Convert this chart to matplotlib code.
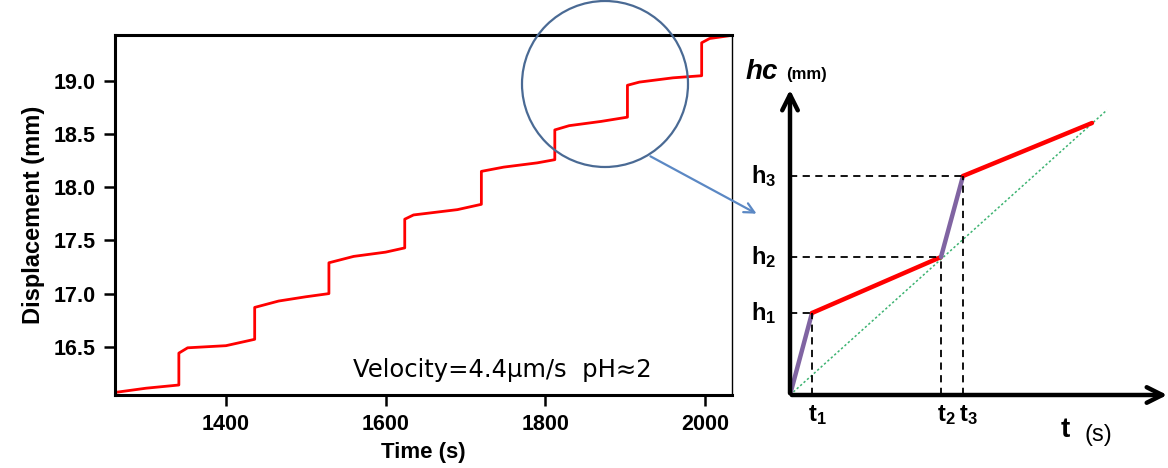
import matplotlib
matplotlib.use("Agg")
import matplotlib.pyplot as plt
from matplotlib.patches import Circle

plt.rcParams["font.family"] = ["Liberation Sans", "DejaVu Sans"]
plt.rcParams["mathtext.fontset"] = "custom"
plt.rcParams["mathtext.rm"] = "Liberation Sans"
plt.rcParams["mathtext.bf"] = "Liberation Sans:bold"
plt.rcParams["mathtext.it"] = "Liberation Sans:italic"

# displacement trace (staircase)
time_s = [1261, 1300, 1341, 1341, 1352, 1400, 1436, 1436, 1466, 1500, 1529, 1529,
          1560, 1600, 1624, 1624, 1635, 1690, 1720, 1720, 1748, 1790, 1812, 1812,
          1830, 1870, 1903, 1903, 1918, 1960, 1996, 1996, 2006, 2034]
disp_mm = [16.07, 16.11, 16.14, 16.44, 16.49, 16.51, 16.57, 16.87, 16.93, 16.97, 17.00, 17.29,
           17.35, 17.39, 17.43, 17.70, 17.74, 17.79, 17.84, 18.15, 18.19, 18.23, 18.26, 18.54,
           18.58, 18.62, 18.66, 18.96, 18.99, 19.03, 19.05, 19.36, 19.40, 19.43]
x_ticks = [1400, 1600, 1800, 2000]
y_ticks = [16.5, 17.0, 17.5, 18.0, 18.5, 19.0]

# schematic key points (arbitrary units)
sketch_t = [0, 22, 151, 173, 302]
sketch_h = [0, 82, 138, 219, 272]
avg_t = [0, 317]
avg_h = [0, 285]
t_labels = ["1", "2", "3"]

W, H = 1168, 468
fig = plt.figure(figsize=(W / 100, H / 100), dpi=100)

# ---- left: measured trace
ax = fig.add_axes([115 / W, (H - 395) / H, (732 - 115) / W, (395 - 35) / H])
ax.plot(time_s, disp_mm, color="red", linewidth=2.0)
ax.set_xlim(1261, 2034)
ax.set_ylim(16.046, 19.433)
ax.set_xticks(x_ticks)
ax.set_yticks(y_ticks)
ax.set_yticklabels([f"{v:.1f}" for v in y_ticks])
ax.tick_params(direction="out", length=8, width=1.8, labelsize=15.5, pad=6,
               top=False, right=False)
for lab in ax.get_xticklabels() + ax.get_yticklabels():
    lab.set_fontweight("bold")
for side in ["left", "bottom", "top"]:
    ax.spines[side].set_linewidth(2.2)
ax.spines["right"].set_linewidth(1.0)
ax.set_xlabel("Time (s)", fontsize=16, fontweight="bold", labelpad=5)
ax.set_ylabel("Displacement (mm)", fontsize=17, fontweight="bold", labelpad=6)
ax.text(0.385, 0.07, "Velocity=4.4μm/s  pH≈2", fontsize=17.5, family="DejaVu Sans",
        transform=ax.transAxes, va="center", ha="left")

# ---- overlay: zoom circle + pointer arrow (pixel coords)
ov = fig.add_axes([0, 0, 1, 1])
ov.set_xlim(0, W)
ov.set_ylim(H, 0)
ov.axis("off")
ov.add_patch(Circle((605, 84), 83, fill=False, edgecolor="#4A6A94", linewidth=1.6,
                    clip_on=False))
ov.annotate("", xy=(759, 215), xytext=(648, 155),
            arrowprops=dict(arrowstyle="->", color="#5B88C4", lw=1.6,
                            mutation_scale=18))

# ---- right: schematic
sc = fig.add_axes([790 / W, (H - 395) / H, (W - 790) / W, 395 / H])
sc.set_xlim(0, W - 790)
sc.set_ylim(0, 395)
sc.axis("off")

sc.plot(avg_t, avg_h, color="#3CB371", linewidth=1.1, linestyle=(0, (1.5, 1.5)))
for i in range(len(sketch_t) - 1):
    c = "#8064A2" if i % 2 == 0 else "red"
    sc.plot(sketch_t[i:i + 2], sketch_h[i:i + 2], color=c, linewidth=3.2,
            solid_capstyle="round")
for tk, hk in zip(sketch_t[1:4], sketch_h[1:4]):
    sc.plot([0, tk], [hk, hk], color="black", linewidth=1.3, linestyle=(0, (4, 3)))
    sc.plot([tk, tk], [0, hk], color="black", linewidth=1.3, linestyle=(0, (4, 3)))

sc.annotate("", xy=(0, 308), xytext=(0, -1),
            arrowprops=dict(arrowstyle="->", color="black", lw=3.2, mutation_scale=28),
            annotation_clip=False)
sc.annotate("", xy=(380, 0), xytext=(-1, 0),
            arrowprops=dict(arrowstyle="->", color="black", lw=3.2, mutation_scale=28),
            annotation_clip=False)

for lab, hk in zip(t_labels, sketch_h[1:4]):
    sc.text(-14, hk, r"$\mathbf{h}_\mathbf{" + lab + "}$", fontsize=17,
            ha="right", va="center")
for lab, tk in zip(t_labels, sketch_t[1:4]):
    sc.text(tk + 5, -20, r"$\mathbf{t}_\mathbf{" + lab + "}$", fontsize=17,
            ha="center", va="center")
sc.text(-12, 316, "hc", fontsize=20, fontweight="bold", fontstyle="italic",
        ha="right", va="baseline")
sc.text(-4, 316, "(mm)", fontsize=12, fontweight="bold", ha="left", va="baseline")
sc.text(275, -35, "t", fontsize=20, fontweight="bold", ha="center", va="center")
sc.text(308, -40, "(s)", fontsize=17, ha="center", va="center")

fig.savefig("out.png", dpi=100)
